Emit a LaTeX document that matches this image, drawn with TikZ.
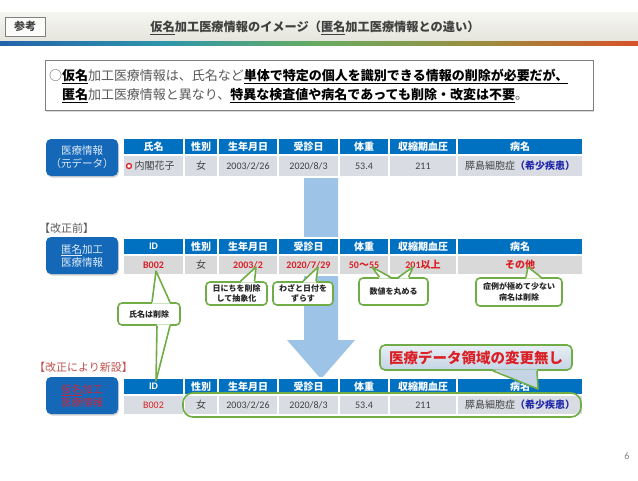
\documentclass[tikz,border=0pt]{standalone}
\usepackage{fontspec}
\setmainfont{Noto Sans CJK JP}
\newfontfamily\latfont{Carlito}
\usepackage{tikz}
\usetikzlibrary{calc,shadows}
\pgfdeclarelayer{edgelayer}
\pgfdeclarelayer{nodelayer}
\pgfsetlayers{edgelayer,nodelayer,main}
\definecolor{hdrblue}{RGB}{0,112,192}
\definecolor{boxblue}{RGB}{21,104,184}
\definecolor{boxtext}{RGB}{222,235,247}
\definecolor{rowgray}{RGB}{217,221,227}
\definecolor{anongray}{RGB}{217,217,217}
\definecolor{txtgray}{RGB}{64,64,64}
\definecolor{notegray}{RGB}{89,89,89}
\definecolor{valred}{RGB}{218,32,38}
\definecolor{pseudored}{RGB}{200,40,60}
\definecolor{labelred}{RGB}{192,80,77}
\definecolor{rareblue}{RGB}{32,40,170}
\definecolor{memogreen}{RGB}{112,173,71}
\definecolor{arrowblue}{RGB}{157,195,230}
\definecolor{barlight}{RGB}{246,246,241}
\definecolor{bardark}{RGB}{229,229,221}
\definecolor{calltop}{RGB}{232,238,244}
\definecolor{callbot}{RGB}{196,212,229}
\definecolor{lineblue}{RGB}{36,98,170}
\definecolor{lineteal}{RGB}{46,150,170}
\definecolor{linegreen}{RGB}{104,172,96}
\definecolor{lineolive}{RGB}{156,140,62}
\definecolor{linered}{RGB}{216,80,42}
\pgfdeclarehorizontalshading{titleline}{100bp}{color(0bp)=(lineblue); color(25bp)=(lineblue); color(38bp)=(lineteal); color(50bp)=(linegreen); color(63bp)=(lineolive); color(75bp)=(linered); color(100bp)=(linered)}
\newcommand{\hilite}[1]{\textcolor{black}{\textbf{\underline{#1}}}}
\tikzstyle{none}=[inner sep=0pt]
\tikzstyle{refbox}=[rectangle,fill=barlight!40,draw=gray,line width=1pt,minimum width=40pt,minimum height=19pt,inner sep=0pt,text=txtgray,font=\bfseries\fontsize{11}{13}\selectfont]
\tikzstyle{notebox}=[rectangle,draw=gray,line width=1pt,fill=white,text width=540pt,align=left,inner xsep=4pt,inner ysep=0pt,minimum height=50pt,text=notegray,font=\fontsize{13}{19}\selectfont,drop shadow={opacity=0.3,shadow xshift=1pt,shadow yshift=-1pt}]
\tikzstyle{datakind}=[rectangle,rounded corners=5pt,fill=boxblue,text=boxtext,minimum width=72pt,minimum height=37pt,inner sep=0pt,align=center,font=\fontsize{10.5}{13}\selectfont,drop shadow={opacity=0.35,shadow xshift=1pt,shadow yshift=-1.5pt}]
\tikzstyle{hcell}=[rectangle,fill=hdrblue,draw=white,line width=2pt,text=white,inner sep=0pt,minimum height=17pt,font=\bfseries\fontsize{10}{12}\selectfont]
\tikzstyle{dcell}=[rectangle,fill=rowgray,draw=white,line width=2pt,text=txtgray,inner sep=0pt,minimum height=20pt,font=\fontsize{10}{12}\selectfont]
\tikzstyle{redval}=[text=valred,font=\bfseries\fontsize{10}{12}\selectfont]
\tikzstyle{memo}=[rectangle,rounded corners=4pt,fill=white,draw=memogreen,line width=1.6pt,align=center,inner sep=0pt,text=black!85,font=\bfseries\fontsize{8}{10.5}\selectfont]
\tikzstyle{bigmemo}=[rectangle,rounded corners=5pt,top color=calltop,bottom color=callbot,draw=memogreen,line width=1.6pt,inner sep=0pt,minimum width=192pt,minimum height=25pt,text=valred,font=\bfseries\fontsize{14.5}{16}\selectfont]
\tikzstyle{keepframe}=[rectangle,rounded corners=10pt,draw=memogreen,line width=1.6pt,minimum width=398pt,minimum height=24pt,inner sep=0pt]
\tikzstyle{tipfill}=[fill=white]
\tikzstyle{tipline}=[draw=memogreen,line width=1.6pt,line join=round]

\begin{document}
\begin{tikzpicture}[x=1pt,y=-1pt]
	\useasboundingbox (0,0) rectangle (638,480);
	\begin{pgfonlayer}{edgelayer}
		\shade [top color=barlight,bottom color=bardark] (0,12) rectangle (638,41);
		\shade [shading=titleline] (0,41) rectangle (638,45);
		% down arrow behind the tables
		\fill [arrowblue] (304,176) -- (338,176) -- (338,340) -- (355,340) -- (321,379) -- (287,340) -- (304,340) -- cycle;
	\end{pgfonlayer}
	\begin{pgfonlayer}{nodelayer}
		\node [style=refbox] (ref) at (25,26.5) {参考};
		\node [style=none,text=txtgray,font=\bfseries\fontsize{12.2}{14}\selectfont] (title) at (315,28) {\underline{仮名}加工医療情報のイメージ（\underline{匿名}加工医療情報との違い）};
		\node [style=notebox] (note) at (319,85.5) {○\hilite{仮名}加工医療情報は、氏名など\hilite{単体で特定の個人を識別できる情報の削除が必要だが、}\\\hspace*{1em}\hilite{匿名}加工医療情報と異なり、\hilite{特異な検査値や病名であっても削除・改変は不要}。};

		% original data
		\node [style=datakind] (src) at (82,157.5) {医療情報\\（元データ）};
		\node [style=hcell,minimum width=61pt] (sH1) at (153.5,146.5) {氏名};
		\node [style=hcell,minimum width=34pt] (sH2) at (201,146.5) {性別};
		\node [style=hcell,minimum width=60pt] (sH3) at (248,146.5) {生年月日};
		\node [style=hcell,minimum width=61pt] (sH4) at (308.5,146.5) {受診日};
		\node [style=hcell,minimum width=50pt] (sH5) at (364,146.5) {体重};
		\node [style=hcell,minimum width=68pt] (sH6) at (423,146.5) {収縮期血圧};
		\node [style=hcell,minimum width=126pt] (sH7) at (520,146.5) {病名};
		\node [style=dcell,minimum width=61pt,minimum height=22pt] (sD1) at (153.5,166) {\hspace*{2pt}内閣花子};
		\node [style=dcell,minimum width=34pt,minimum height=22pt] (sD2) at (201,166) {女};
		\node [style=dcell,minimum width=60pt,minimum height=22pt] (sD3) at (248,166) {\latfont 2003/2/26};
		\node [style=dcell,minimum width=61pt,minimum height=22pt] (sD4) at (308.5,166) {\latfont 2020/8/3};
		\node [style=dcell,minimum width=50pt,minimum height=22pt] (sD5) at (364,166) {\latfont 53.4};
		\node [style=dcell,minimum width=68pt,minimum height=22pt] (sD6) at (423,166) {\latfont 211};
		\node [style=dcell,minimum width=126pt,minimum height=22pt] (sD7) at (520,166) {膵島細胞症\textcolor{rareblue}{\textbf{（希少疾患）}}};
		\node [circle,draw=valred,fill=white,line width=1.3pt,minimum size=5pt,inner sep=0pt] (mark) at (129,166) {};

		% anonymized
		\node [style=none,anchor=west,text=notegray,font=\fontsize{11}{13}\selectfont] (before) at (39,228) {【改正前】};
		\node [style=datakind] (anon) at (82,255.5) {\underline{匿名}加工\\医療情報};
		\node [style=hcell,minimum width=61pt] (aH1) at (153.5,246.5) {\latfont ID};
		\node [style=hcell,minimum width=34pt] (aH2) at (201,246.5) {性別};
		\node [style=hcell,minimum width=60pt] (aH3) at (248,246.5) {生年月日};
		\node [style=hcell,minimum width=61pt] (aH4) at (308.5,246.5) {受診日};
		\node [style=hcell,minimum width=50pt] (aH5) at (364,246.5) {体重};
		\node [style=hcell,minimum width=68pt] (aH6) at (423,246.5) {収縮期血圧};
		\node [style=hcell,minimum width=126pt] (aH7) at (520,246.5) {病名};
		\node [style=dcell,style=redval,fill=anongray,minimum width=61pt] (aD1) at (153.5,265) {\latfont B002};
		\node [style=dcell,fill=anongray,minimum width=34pt] (aD2) at (201,265) {女};
		\node [style=dcell,style=redval,fill=anongray,minimum width=60pt] (aD3) at (248,265) {\latfont 2003/2};
		\node [style=dcell,style=redval,fill=anongray,minimum width=61pt] (aD4) at (308.5,265) {\latfont 2020/7/29};
		\node [style=dcell,style=redval,fill=anongray,minimum width=50pt] (aD5) at (364,265) {{\latfont 50}～{\latfont 55}};
		\node [style=dcell,style=redval,fill=anongray,minimum width=68pt] (aD6) at (423,265) {{\latfont 201}以上};
		\node [style=dcell,style=redval,fill=anongray,minimum width=126pt] (aD7) at (520,265) {その他};

		% pseudonymized
		\node [style=none,anchor=west,text=labelred,font=\fontsize{11}{13}\selectfont] (newrule) at (34,367) {【改正により新設】};
		\node [style=datakind,text=pseudored] (pseudo) at (82,395.5) {\underline{仮名}加工\\医療情報};
		\node [style=hcell,minimum width=61pt] (pH1) at (153.5,386.5) {\latfont ID};
		\node [style=hcell,minimum width=34pt] (pH2) at (201,386.5) {性別};
		\node [style=hcell,minimum width=60pt] (pH3) at (248,386.5) {生年月日};
		\node [style=hcell,minimum width=61pt] (pH4) at (308.5,386.5) {受診日};
		\node [style=hcell,minimum width=50pt] (pH5) at (364,386.5) {体重};
		\node [style=hcell,minimum width=68pt] (pH6) at (423,386.5) {収縮期血圧};
		\node [style=hcell,minimum width=126pt] (pH7) at (520,386.5) {病名};
		\node [style=dcell,text=valred,minimum width=61pt] (pD1) at (153.5,405) {\latfont B002};
		\node [style=dcell,minimum width=34pt] (pD2) at (201,405) {女};
		\node [style=dcell,minimum width=60pt] (pD3) at (248,405) {\latfont 2003/2/26};
		\node [style=dcell,minimum width=61pt] (pD4) at (308.5,405) {\latfont 2020/8/3};
		\node [style=dcell,minimum width=50pt] (pD5) at (364,405) {\latfont 53.4};
		\node [style=dcell,minimum width=68pt] (pD6) at (423,405) {\latfont 211};
		\node [style=dcell,minimum width=126pt] (pD7) at (520,405) {膵島細胞症\textcolor{rareblue}{\textbf{（希少疾患）}}};
		\node [style=none,text=gray,font=\fontsize{10}{12}\selectfont] (page) at (627,456) {\latfont 6};
	\end{pgfonlayer}

	% callouts
	\node [style=keepframe] (keep) at (382,405) {};
	\node [style=memo,minimum width=62pt,minimum height=22pt] (delname) at (149,314) {氏名は削除};
	\node [style=memo,minimum width=61pt,minimum height=23pt] (abstract) at (236.5,293.5) {日にちを削除\\して抽象化};
	\node [style=memo,minimum width=60pt,minimum height=23pt] (shiftday) at (303,293.5) {わざと日付を\\ずらす};
	\node [style=memo,minimum width=69pt,minimum height=27pt] (rounding) at (393.5,291.5) {数値を丸める};
	\node [style=memo,minimum width=86pt,minimum height=28pt] (raredis) at (519,292) {症例が極めて少ない\\病名は削除};
	\node [style=bigmemo] (nochange) at (476,357.5) {医療データ領域の変更無し};
	\coordinate (upID) at (156,271);
	\coordinate (downID) at (156,381);
	\coordinate (tipDate) at (256,267);
	\coordinate (tipVisit) at (318,267);
	\coordinate (tipWeight) at (372,267);
	\coordinate (tipBP) at (413,267);
	\coordinate (tipDis) at (528,267);
	\coordinate (tipKeep) at (538,389);
	\fill [style=tipfill] ($(delname.north)+(3,1.5)$) -- (upID) -- ($(delname.north)+(21,1.5)$) -- cycle;
	\draw [style=tipline] ($(delname.north)+(3,0)$) -- (upID) -- ($(delname.north)+(21,0)$);
	\fill [style=tipfill] ($(delname.south)+(8,-1.5)$) -- (downID) -- ($(delname.south)+(21,-1.5)$) -- cycle;
	\draw [style=tipline] ($(delname.south)+(8,0)$) -- (downID) -- ($(delname.south)+(21,0)$);
	\fill [style=tipfill] ($(abstract.north)+(4,1.5)$) -- (tipDate) -- ($(abstract.north)+(18,1.5)$) -- cycle;
	\draw [style=tipline] ($(abstract.north)+(4,0)$) -- (tipDate) -- ($(abstract.north)+(18,0)$);
	\fill [style=tipfill] ($(shiftday.north)+(0,1.5)$) -- (tipVisit) -- ($(shiftday.north)+(13,1.5)$) -- cycle;
	\draw [style=tipline] ($(shiftday.north)+(0,0)$) -- (tipVisit) -- ($(shiftday.north)+(13,0)$);
	\fill [style=tipfill] ($(rounding.north)+(-14,1.5)$) -- (tipWeight) -- ($(rounding.north)+(-3,1.5)$) -- cycle;
	\draw [style=tipline] ($(rounding.north)+(-14,0)$) -- (tipWeight) -- ($(rounding.north)+(-3,0)$);
	\fill [style=tipfill] ($(rounding.north)+(5,1.5)$) -- (tipBP) -- ($(rounding.north)+(15,1.5)$) -- cycle;
	\draw [style=tipline] ($(rounding.north)+(5,0)$) -- (tipBP) -- ($(rounding.north)+(15,0)$);
	\fill [style=tipfill] ($(raredis.north)+(7,1.5)$) -- (tipDis) -- ($(raredis.north)+(22,1.5)$) -- cycle;
	\draw [style=tipline] ($(raredis.north)+(7,0)$) -- (tipDis) -- ($(raredis.north)+(22,0)$);
	\fill [callbot] ($(nochange.south)+(17,-1.5)$) -- (tipKeep) -- ($(nochange.south)+(61,-1.5)$) -- cycle;
	\draw [style=tipline] ($(nochange.south)+(17,0)$) -- (tipKeep) -- ($(nochange.south)+(61,0)$);
\end{tikzpicture}
\end{document}
